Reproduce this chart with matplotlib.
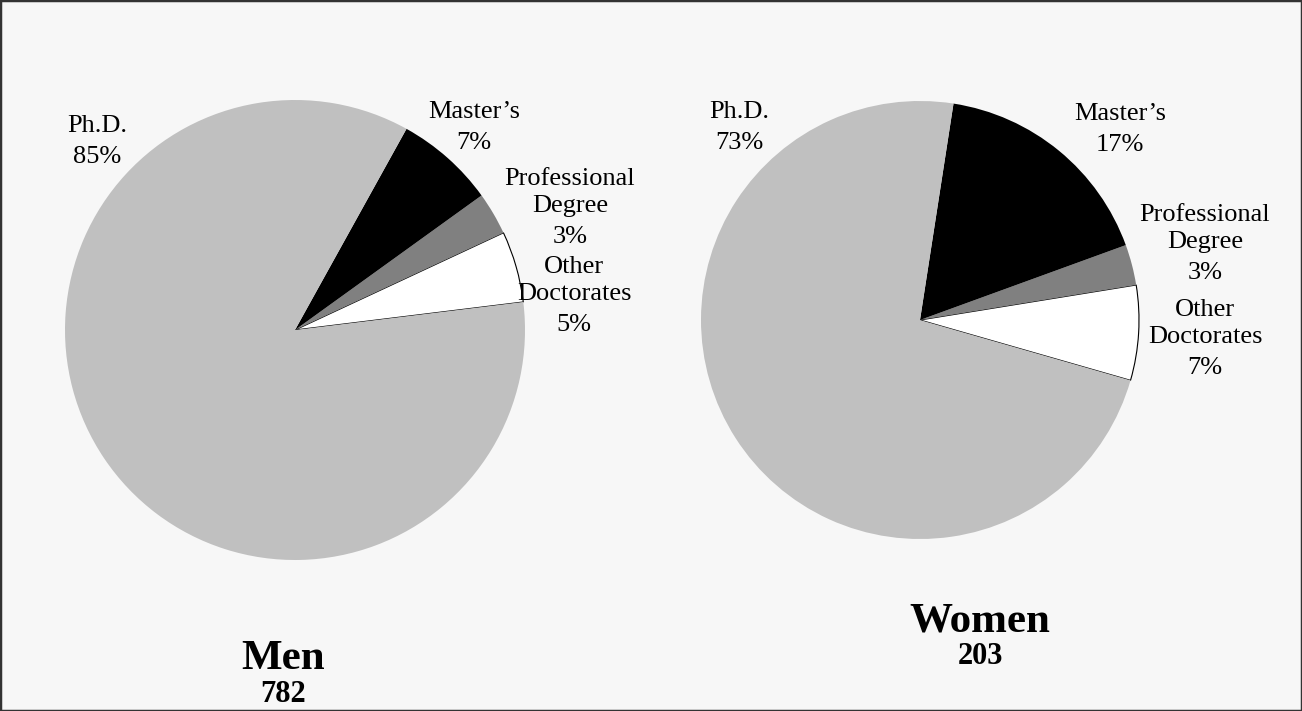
import matplotlib.pyplot as plt

# data
categories = ["Other\nDoctorates", "Professional\nDegree", "Master\u2019s", "Ph.D."]
colors = ["white", "#808080", "black", "#c0c0c0"]
men_pct = [5, 3, 7, 85]
women_pct = [7, 3, 17, 73]
men_total = 782
women_total = 203

W, H = 1302, 711
fig = plt.figure(figsize=(W / 100, H / 100), dpi=100, facecolor="#f7f7f7")
ax = fig.add_axes([0, 0, 1, 1])
ax.set_xlim(0, W)
ax.set_ylim(0, H)
ax.set_aspect("equal")
ax.axis("off")

serif = "Liberation Serif"

def put(x, y, s, **kw):
    ax.text(x, H - y, s, ha="center", va="center", family=serif, **kw)

def draw_pie(vals, cx, cy, r, start, label_pos, title, total, tpos):
    wedges, _ = ax.pie(vals, colors=colors, startangle=start, counterclock=True,
                       center=(cx, H - cy), radius=r, frame=True,
                       wedgeprops=dict(linewidth=0))
    wedges[0].set_edgecolor("black")
    wedges[0].set_linewidth(0.8)
    # label_pos gives the centre of the percentage line
    for cat, v, (lx, ly) in zip(categories, vals, label_pos):
        put(lx, ly, f"{v}%", fontsize=19)
        lines = cat.split("\n")
        for i, line in enumerate(reversed(lines)):
            put(lx, ly - 31 - 27 * i, line, fontsize=19)
    put(tpos[0], tpos[1], title, fontsize=31, fontweight="bold")
    put(tpos[0], tpos[1] + 36, str(total), fontsize=22, fontweight="bold")

draw_pie(men_pct, 295, 330, 230, 7,
         [(574, 325), (570, 237), (474, 143), (97, 157)],
         "Men", men_total, (283, 659))
draw_pie(women_pct, 920, 320, 219, -16,
         [(1205, 368), (1205, 273), (1120, 145), (739, 143)],
         "Women", women_total, (980, 621))

ax.set_xlim(0, W)
ax.set_ylim(0, H)
ax.axis("off")

# border
fig.patches.append(plt.Rectangle((0, 0), 1, 1, transform=fig.transFigure,
                                 fill=False, edgecolor="#333333", linewidth=2.5))

fig.savefig("out.png", dpi=100, facecolor=fig.get_facecolor())
